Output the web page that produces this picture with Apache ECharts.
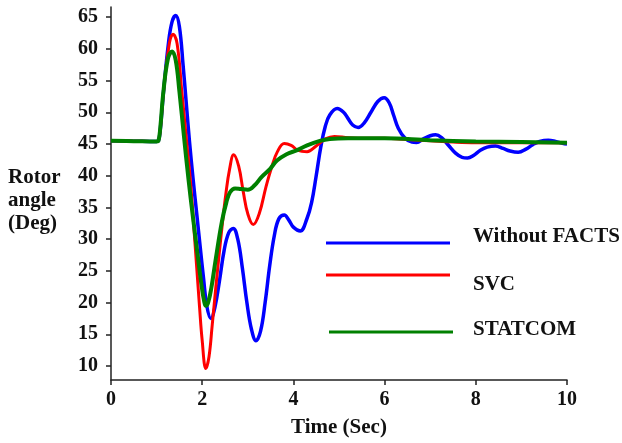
<!DOCTYPE html>
<html>
<head>
<meta charset="utf-8">
<script src="https://cdn.jsdelivr.net/npm/echarts@6/dist/echarts.min.js"></script>
<style>html,body{margin:0;padding:0;background:#fff}#c{width:622px;height:443px}</style>
</head>
<body>
<div id="c"></div>
<script>
// ---- data ----
var seriesNames = ['Without FACTS', 'SVC', 'STATCOM'];
var xTicks = [0, 2, 4, 6, 8, 10];
var yTicks = [10, 15, 20, 25, 30, 35, 40, 45, 50, 55, 60, 65];
var yTitle = 'Rotor\nangle\n(Deg)';
var xTitle = 'Time (Sec)';

var tBlue = [0, 0.5, 1.0, 1.04, 1.08, 1.15, 1.26, 1.34, 1.42, 1.5, 1.58, 1.65, 1.72, 1.8, 1.88, 1.96, 2.03, 2.1, 2.19, 2.28, 2.38, 2.48, 2.58, 2.68, 2.78, 2.88, 2.98, 3.08, 3.18, 3.28, 3.38, 3.48, 3.58, 3.68, 3.8, 3.9, 4.0, 4.15, 4.3, 4.4, 4.5, 4.6, 4.7, 4.8, 4.96, 5.1, 5.2, 5.3, 5.42, 5.55, 5.7, 5.85, 5.99, 6.1, 6.2, 6.3, 6.45, 6.6, 6.7, 6.85, 7.0, 7.12, 7.25, 7.4, 7.55, 7.7, 7.82, 7.95, 8.1, 8.25, 8.43, 8.6, 8.75, 8.93, 9.1, 9.25, 9.4, 9.59, 9.75, 9.9, 10];
var yBlue = [45.5, 45.45, 45.4, 45.5, 47.2, 53.1, 60.9, 64.3, 65.25, 63.5, 57.5, 51.5, 45.5, 39.5, 34, 28.5, 23.8, 19.5, 17.5, 19.3, 23.5, 28.2, 31.0, 31.7, 30.0, 25.5, 20.0, 15.8, 14.0, 15.5, 20.0, 25.8, 30.5, 33.2, 33.8, 33.0, 31.9, 31.3, 33.3, 35.8, 40, 44.5, 47.8, 49.6, 50.6, 50.0, 49, 48, 47.6, 48.3, 50, 51.7, 52.3, 51.5, 49.5, 47.5, 45.9, 45.3, 45.25, 45.8, 46.3, 46.45, 46, 44.8, 43.6, 42.9, 42.8, 43.2, 44.0, 44.5, 44.7, 44.3, 43.9, 43.7, 44.2, 44.9, 45.4, 45.6, 45.4, 45.1, 45.0];

var tRed = [0, 0.5, 1.0, 1.04, 1.08, 1.15, 1.28, 1.36, 1.45, 1.55, 1.66, 1.74, 1.81, 1.88, 1.94, 2.0, 2.08, 2.15, 2.22, 2.3, 2.37, 2.44, 2.52, 2.6, 2.69, 2.8, 2.9, 3.0, 3.12, 3.25, 3.4, 3.53, 3.65, 3.8, 3.95, 4.1, 4.3, 4.5, 4.7, 4.9, 5.2, 5.6, 6.0, 6.5, 7.0, 7.5, 8.0, 9.0, 10];
var yRed = [45.5, 45.45, 45.4, 45.5, 47.2, 53.1, 60.9, 62.3, 60.8, 53.5, 45.25, 39.3, 32.5, 25.5, 19.5, 14.0, 9.6, 11.5, 16.5, 22.5, 27.5, 32.3, 37.2, 41, 43.3, 41.5, 37.5, 34, 32.3, 34, 38.3, 41.5, 43.8, 45.1, 44.8, 44.0, 43.8, 44.7, 45.8, 46.2, 46.0, 45.9, 45.9, 45.7, 45.5, 45.3, 45.2, 45.2, 45.2];

var tGreen = [0, 0.5, 1.0, 1.04, 1.08, 1.15, 1.25, 1.34, 1.42, 1.5, 1.6, 1.7, 1.8, 1.9, 1.98, 2.04, 2.08, 2.13, 2.2, 2.3, 2.43, 2.53, 2.61, 2.72, 2.85, 3.0, 3.15, 3.3, 3.49, 3.64, 3.85, 4.07, 4.3, 4.58, 4.8, 5.2, 6.0, 7.0, 8.0, 9.0, 10];
var yGreen = [45.5, 45.45, 45.4, 45.5, 47.5, 53.3, 58.5, 59.6, 58.2, 53.3, 46.2, 39.4, 33.3, 27.5, 23.0, 20.3, 19.5, 20.0, 22.3, 27, 32.7, 35.8, 37.4, 38.0, 37.9, 37.8, 38.5, 39.8, 41.1, 42.4, 43.4, 44.0, 44.8, 45.5, 45.8, 45.9, 45.9, 45.6, 45.4, 45.3, 45.2];

function pairs(t, y) { return t.map(function (v, i) { return [v, y[i]]; }); }

var FONT = '"Liberation Serif", "Times New Roman", serif';
var chart = echarts.init(document.getElementById('c'), null, { renderer: 'canvas' });
var axisLine = { show: true, lineStyle: { color: '#222', width: 1.5 } };
var tickStyle = { show: true, inside: false, length: 5, lineStyle: { color: '#222', width: 1.5 } };

chart.setOption({
  animation: false,
  backgroundColor: '#fff',
  grid: { left: 111, right: 55, top: 7, bottom: 61, containLabel: false },
  xAxis: {
    type: 'value', min: 0, max: 10, interval: 2,
    axisLine: axisLine,
    axisTick: Object.assign({}, tickStyle, { customValues: xTicks }),
    axisLabel: { customValues: xTicks, fontFamily: FONT, fontWeight: 'bold', fontSize: 20, color: '#111', margin: 10 },
    splitLine: { show: false },
    name: xTitle, nameLocation: 'middle', nameGap: 37,
    nameTextStyle: { fontFamily: FONT, fontWeight: 'bold', fontSize: 21, color: '#111', verticalAlign: 'top' }
  },
  yAxis: {
    type: 'value', min: 7.8, max: 66.6,
    axisLine: axisLine,
    axisTick: Object.assign({}, tickStyle, { customValues: yTicks }),
    axisLabel: { customValues: yTicks, fontFamily: FONT, fontWeight: 'bold', fontSize: 20, color: '#111', margin: 13 },
    splitLine: { show: false }
  },
  series: [
    { name: seriesNames[0], type: 'line', data: pairs(tBlue, yBlue), smooth: 0.4, showSymbol: false, lineStyle: { color: '#0000FF', width: 3.5 }, itemStyle: { color: '#0000FF' }, z: 2 },
    { name: seriesNames[1], type: 'line', data: pairs(tRed, yRed), smooth: 0.4, showSymbol: false, lineStyle: { color: '#FF0000', width: 3 }, itemStyle: { color: '#FF0000' }, z: 3 },
    { name: seriesNames[2], type: 'line', data: pairs(tGreen, yGreen), smooth: 0.4, showSymbol: false, lineStyle: { color: '#008000', width: 4 }, itemStyle: { color: '#008000' }, z: 4 }
  ],
  graphic: [
    { type: 'text', left: 8, top: 166, style: { text: yTitle, font: 'bold 21px ' + FONT, lineHeight: 23, fill: '#111' } },
    { type: 'line', shape: { x1: 326, y1: 243, x2: 450, y2: 243 }, style: { stroke: '#0000FF', lineWidth: 3 } },
    { type: 'line', shape: { x1: 326, y1: 275, x2: 450, y2: 275 }, style: { stroke: '#FF0000', lineWidth: 3 } },
    { type: 'line', shape: { x1: 329, y1: 332, x2: 453, y2: 332 }, style: { stroke: '#008000', lineWidth: 3 } },
    { type: 'text', left: 473, top: 226, style: { text: seriesNames[0], font: 'bold 21px ' + FONT, fill: '#111' } },
    { type: 'text', left: 473, top: 274, style: { text: seriesNames[1], font: 'bold 21px ' + FONT, fill: '#111' } },
    { type: 'text', left: 473, top: 319, style: { text: seriesNames[2], font: 'bold 21px ' + FONT, fill: '#111' } }
  ]
});
</script>
</body>
</html>
